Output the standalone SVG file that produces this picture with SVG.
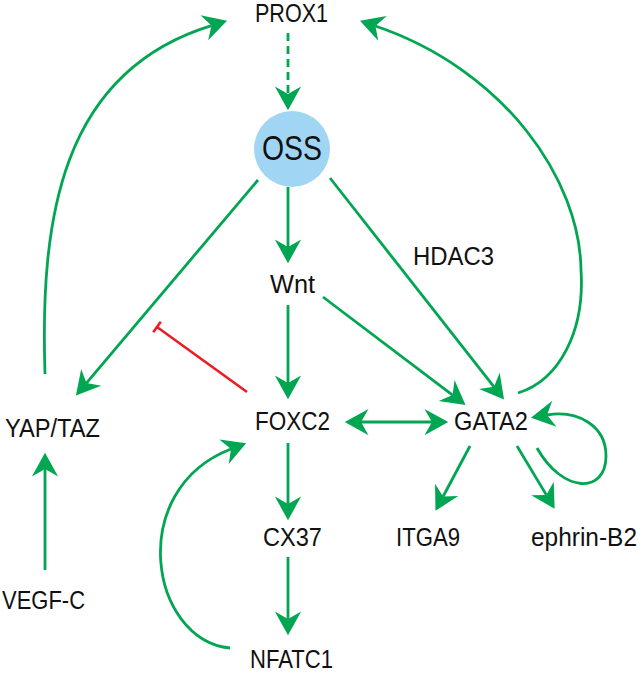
<svg xmlns="http://www.w3.org/2000/svg" width="644" height="674" viewBox="0 0 644 674">
<style>
.lbl{font-family:"Liberation Sans",Arial,sans-serif;font-size:25px;fill:#111;text-anchor:middle}
.c{fill:none;stroke:#00a651;stroke-width:2.8}
.inh{fill:none;stroke:#ed1c24;stroke-width:2.6}
</style>
<defs>
<marker id="ah" markerUnits="userSpaceOnUse" orient="auto-start-reverse" markerWidth="30" markerHeight="30" viewBox="-8 -12 24 24" refX="0" refY="0">
<path d="M13,0 L-6,-10.5 L0,0 L-6,10.5 Z" fill="#00a651"/>
</marker>
</defs>
<rect width="644" height="674" fill="#fff"/>
<g id="connectors">
<path class="c" d="M288,33 L288,94" stroke-dasharray="8,5" marker-end="url(#ah)"/>
<path class="c" d="M288,187 L288,247" marker-end="url(#ah)"/>
<path class="c" d="M288,305 L288,383" marker-end="url(#ah)"/>
<path class="c" d="M288,443 L288,504" marker-end="url(#ah)"/>
<path class="c" d="M288,557 L288,619" marker-end="url(#ah)"/>
<path class="c" d="M45,570 L45,469" marker-end="url(#ah)"/>
<path class="c" d="M258,180 L86.4,383.1" marker-end="url(#ah)"/>
<path class="c" d="M330,178 L494,386.8" marker-end="url(#ah)"/>
<path class="c" d="M323,297 L452.6,395.1" marker-end="url(#ah)"/>
<path class="c" d="M361,422 L432,422" marker-start="url(#ah)" marker-end="url(#ah)"/>
<path class="c" d="M470,446 L443.1,496.5" marker-end="url(#ah)"/>
<path class="c" d="M517,446 L546.3,494.9" marker-end="url(#ah)"/>
<path class="c" d="M45,374 C40,220 60,72 211.5,25.6" marker-end="url(#ah)"/>
<path class="c" d="M518,393 C560,380 585,330 581,270 C580,180 505,70 375.4,26" marker-end="url(#ah)"/>
<path class="c" d="M230,648 C150,640 125,490 231,449" marker-end="url(#ah)"/>
<path class="c" d="M537,448 C563,494 606,494 606,456 C606,425 577,410 547,415" marker-end="url(#ah)"/>
<path class="inh" d="M247,392 L157,327 M153.2,332.3 L160.8,321.7"/>
</g>
<g id="node-prox1"><text class="lbl" x="291.5" y="22" textLength="73" lengthAdjust="spacingAndGlyphs">PROX1</text></g>
<g id="node-oss"><circle cx="292" cy="149" r="38" fill="#a0d6f4"/><text class="lbl" x="292" y="160" style="font-size:35px" textLength="60" lengthAdjust="spacingAndGlyphs">OSS</text></g>
<g id="node-wnt"><text class="lbl" x="292.5" y="293" textLength="45" lengthAdjust="spacingAndGlyphs">Wnt</text></g>
<g id="node-hdac3"><text class="lbl" x="453.5" y="265" textLength="81" lengthAdjust="spacingAndGlyphs">HDAC3</text></g>
<g id="node-yaptaz"><text class="lbl" x="52.5" y="437" textLength="95" lengthAdjust="spacingAndGlyphs">YAP/TAZ</text></g>
<g id="node-foxc2"><text class="lbl" x="292.5" y="430" textLength="75" lengthAdjust="spacingAndGlyphs">FOXC2</text></g>
<g id="node-gata2"><text class="lbl" x="491" y="430" textLength="74" lengthAdjust="spacingAndGlyphs">GATA2</text></g>
<g id="node-vegfc"><text class="lbl" x="43.5" y="609" textLength="83" lengthAdjust="spacingAndGlyphs">VEGF-C</text></g>
<g id="node-cx37"><text class="lbl" x="292.5" y="546" textLength="59" lengthAdjust="spacingAndGlyphs">CX37</text></g>
<g id="node-nfatc1"><text class="lbl" x="291.5" y="668" textLength="83" lengthAdjust="spacingAndGlyphs">NFATC1</text></g>
<g id="node-itga9"><text class="lbl" x="428" y="546" textLength="64" lengthAdjust="spacingAndGlyphs">ITGA9</text></g>
<g id="node-ephrinb2"><text class="lbl" x="584" y="546" textLength="106" lengthAdjust="spacingAndGlyphs">ephrin-B2</text></g>
</svg>
